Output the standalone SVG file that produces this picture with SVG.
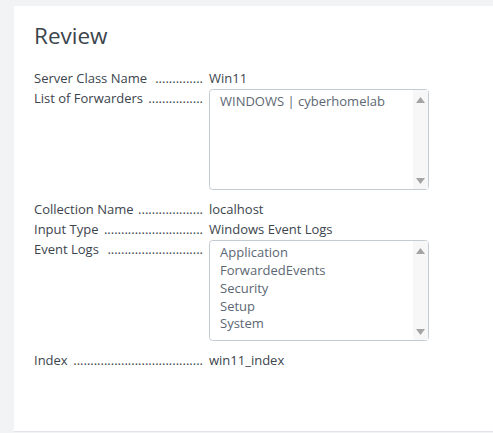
<svg xmlns="http://www.w3.org/2000/svg" width="493" height="433" viewBox="0 0 493 433">
<style>
.lbl{font-family:"Open Sans","Liberation Sans",sans-serif;font-size:13px;fill:#3c444d}
.dots{font-family:"Open Sans","Liberation Sans",sans-serif;font-size:13px;fill:#3c444d;text-anchor:end}
.item{font-family:"Open Sans","Liberation Sans",sans-serif;font-size:13px;fill:#5c6773}
.box{fill:#ffffff;stroke:#c3cbd4;stroke-width:1}
.sb{fill:#f7f7f7}
.arr{fill:#a3a3a3}
</style>
<rect x="0" y="0" width="493" height="433" fill="#f2f3f5"/>
<rect x="14" y="6" width="480" height="425" fill="#ffffff"/>
<rect x="14" y="431" width="480" height="1" fill="#e1e4e8"/>
<text x="34" y="44" style="font-family:'Open Sans','Liberation Sans',sans-serif;font-size:22.5px;fill:#3c444d">Review</text>

<g id="row-server-class">
<text class="lbl" x="34" y="83">Server Class Name</text>
<text class="dots" x="203" y="83">..............</text>
<text class="lbl" x="209" y="83">Win11</text>
</g>
<g id="row-forwarders">
<text class="lbl" x="34" y="103">List of Forwarders</text>
<text class="dots" x="203" y="103">................</text>
<rect class="box" x="209.5" y="89.5" width="219" height="100" rx="3"/>
<rect class="sb" x="413" y="90" width="15" height="99"/>
<path class="arr" d="M416 103 L420.5 97 L425 103 Z"/>
<path class="arr" d="M416 178 L420.5 184 L425 178 Z"/>
<text class="item" x="220" y="106">WINDOWS | cyberhomelab</text>
</g>
<g id="row-collection">
<text class="lbl" x="34" y="214">Collection Name</text>
<text class="dots" x="203" y="214">...................</text>
<text class="lbl" x="209" y="214">localhost</text>
</g>
<g id="row-input-type">
<text class="lbl" x="34" y="234">Input Type</text>
<text class="dots" x="203" y="234">.............................</text>
<text class="lbl" x="209" y="234">Windows Event Logs</text>
</g>
<g id="row-event-logs">
<text class="lbl" x="34" y="254">Event Logs</text>
<text class="dots" x="203" y="254">............................</text>
<rect class="box" x="209.5" y="240.5" width="219" height="100" rx="3"/>
<rect class="sb" x="413" y="241" width="15" height="99"/>
<path class="arr" d="M416 254 L420.5 248 L425 254 Z"/>
<path class="arr" d="M416 329 L420.5 335 L425 329 Z"/>
<text class="item" x="220" y="257">Application</text>
<text class="item" x="220" y="275">ForwardedEvents</text>
<text class="item" x="220" y="293">Security</text>
<text class="item" x="220" y="311">Setup</text>
<text class="item" x="220" y="328">System</text>
</g>
<g id="row-index">
<text class="lbl" x="34" y="365">Index</text>
<text class="dots" x="203" y="365">......................................</text>
<text class="lbl" x="209" y="365">win11_index</text>
</g>
<g id="connectors"/>
</svg>
